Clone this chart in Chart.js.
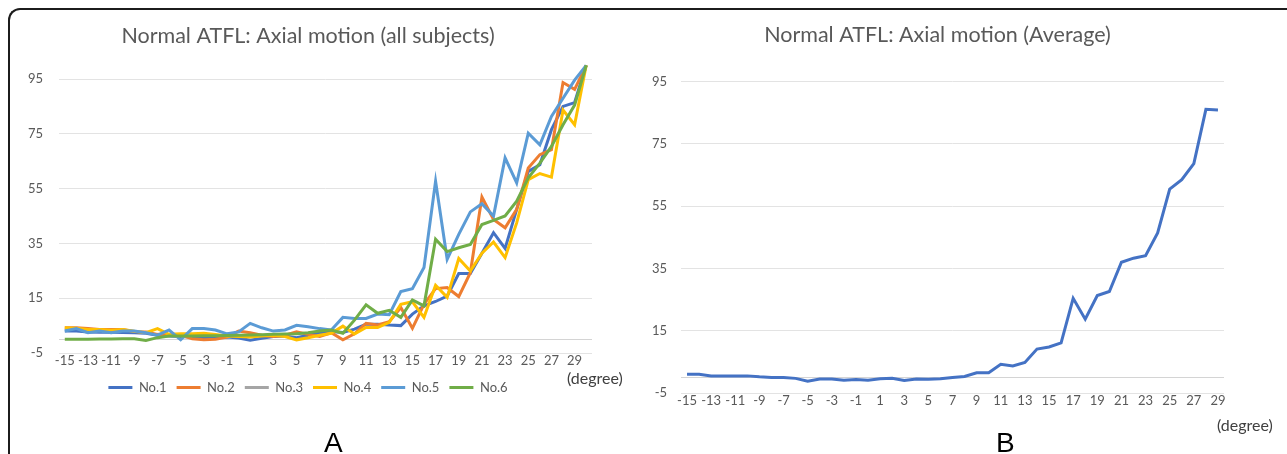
<!DOCTYPE html>
<html>
<head>
<meta charset="utf-8">
<script src="https://cdn.jsdelivr.net/npm/chart.js@4.4.1/dist/chart.umd.min.js"></script>
<style>
  html, body { margin: 0; padding: 0; background: #fff; }
  body { width: 1287px; height: 454px; position: relative; overflow: hidden; font-family: Lato, "Open Sans", sans-serif; }
  #frame { position: absolute; left: 8px; top: 8px; width: 1400px; height: 600px;
           border-top: 2px solid #1c1c1c; border-left: 2px solid #1c1c1c; border-top-left-radius: 12px; }
  canvas { position: absolute; top: 0; }
  .deg { position: absolute; font-size: 16px; line-height: 18px; color: #404040; }
  .panel { position: absolute; font-family: "Liberation Sans", Arial, sans-serif; font-size: 28px; line-height: 28px; color: #000; }
</style>
</head>
<body>
<div id="frame"></div>
<canvas id="chartA" width="640" height="454" style="left:0"></canvas>
<canvas id="chartB" width="647" height="454" style="left:640px"></canvas>
<div class="deg" style="left:567px; top:369px">(degree)</div>
<div class="deg" style="left:1217px; top:416px">(degree)</div>
<div class="panel" style="left:324px; top:429px">A</div>
<div class="panel" style="left:996px; top:429px">B</div>
<script>
// x categories (degree)
const degreesA = [];
for (let d = -15; d <= 30; d++) degreesA.push(String(d));
const degreesB = degreesA.slice(0, 45);   // -15 .. 29

const yTicks = [-5, 0, 15, 35, 55, 75, 95];

const subjectNames = ["No.1", "No.2", "No.3", "No.4", "No.5", "No.6"];
const subjectColors = ["#4472C4", "#ED7D31", "#A5A5A5", "#FFC000", "#5B9BD5", "#70AD47"];

const no1 = [3.0, 3.0, 2.7, 2.6, 2.6, 2.5, 2.4, 2.2, 1.5, 1.2, 1.0, 0.8, 0.6, 0.6, 0.8, 0.5, -0.3, 0.4, 1.0, 1.2, 0.6, 1.5, 2.4, 2.8,
             2.5, 3.7, 5.5, 5.5, 5.2, 5.0, 9.2, 12.2, 13.8, 15.8, 24.0, 24.0, 31.4, 38.9, 33.2, 47.4, 61.3, 63.7, 76.5, 85.0, 86.4, 100];
const no2 = [4.2, 4.2, 3.9, 3.6, 3.6, 3.6, 2.8, 2.7, 1.8, 1.5, 1.5, 0.2, -0.2, 0.0, 0.8, 3.0, 2.4, 1.5, 1.0, 1.5, 2.7, 1.8, 1.0, 2.4,
             -0.2, 2.0, 5.8, 5.2, 6.4, 11.6, 4.0, 12.8, 18.5, 18.9, 15.6, 24.3, 51.9, 43.7, 40.7, 47.4, 62.5, 67.4, 69.2, 93.7, 91.2, 100];
const no3 = [];   // grey series: no line visible in the figure
const no4 = [4.2, 4.0, 3.6, 3.6, 3.3, 3.6, 2.9, 2.4, 3.9, 1.8, 2.0, 2.0, 2.2, 1.8, 1.2, 1.0, 0.8, 1.2, 1.5, 1.0, -0.2, 0.6, 1.5, 2.2,
             4.8, 1.9, 4.3, 4.3, 6.2, 12.8, 13.7, 8.0, 19.7, 15.3, 29.5, 24.9, 31.4, 35.5, 29.8, 42.5, 58.3, 60.5, 59.2, 83.7, 78.3, 100];
const no5 = [3.0, 3.9, 2.4, 3.0, 2.4, 3.0, 3.0, 2.4, 1.5, 3.4, -0.2, 3.9, 3.9, 3.4, 2.0, 2.7, 5.8, 4.2, 3.0, 3.4, 5.1, 4.6, 3.9, 3.4,
             8.0, 7.6, 7.6, 9.2, 9.0, 17.4, 18.5, 26.2, 57.7, 29.2, 38.3, 46.5, 49.5, 45.0, 66.2, 57.1, 75.2, 71.0, 81.3, 88.0, 94.6, 100];
const no6 = [0.0, 0.0, 0.0, 0.1, 0.1, 0.2, 0.2, -0.4, 0.6, 1.2, 1.2, 1.2, 1.3, 1.3, 1.4, 1.5, 1.6, 1.7, 1.8, 1.9, 2.0, 2.4, 3.0, 3.4,
             2.2, 7.0, 12.6, 9.5, 10.6, 8.0, 14.4, 12.2, 36.5, 32.0, 33.4, 34.6, 41.9, 43.4, 45.0, 50.4, 58.9, 64.3, 70.4, 78.3, 85.5, 100];

const average = [1.0, 1.0, 0.5, 0.5, 0.5, 0.5, 0.2, 0.0, 0.0, -0.3, -1.2, -0.5, -0.5, -0.9, -0.7, -0.9, -0.4, -0.3, -1.0, -0.5, -0.6, -0.4, 0.0, 0.3,
                 1.5, 1.5, 4.2, 3.7, 4.8, 9.1, 9.8, 11.1, 25.4, 18.7, 26.3, 27.6, 37.0, 38.3, 39.1, 46.4, 60.5, 63.5, 68.7, 86.1, 85.9];

const subjectData = [no1, no2, no3, no4, no5, no6];

const textColor = "#595959";
const fontFamily = "Lato, 'Open Sans', sans-serif";
Chart.defaults.font.family = fontFamily;
Chart.defaults.color = textColor;
Chart.defaults.animation = false;

function yScale(width, pad) {
  return {
    min: -5, max: 100,
    afterBuildTicks: s => { s.ticks = yTicks.map(v => ({ value: v })); },
    afterFit: s => { s.width = width; },
    ticks: { padding: pad, font: { size: 13 }, callback: v => (v === 0 ? "" : v) },
    grid: { drawTicks: false, color: c => (c.tick && c.tick.value === 0 ? "#d4d4d4" : "#e3e3e3"), lineWidth: 1 },
    border: { display: false }
  };
}

function xScale(labels) {
  return {
    type: "category",
    offset: true,
    afterFit: s => { s.height = 18; },
    ticks: { autoSkip: false, maxRotation: 0, padding: 0, font: { size: 13 },
             callback: (v, i) => (i % 2 === 0 ? labels[i] : "") },
    grid: { display: false, drawTicks: false },
    border: { display: false }
  };
}

new Chart(document.getElementById("chartA"), {
  type: "line",
  data: {
    labels: degreesA,
    datasets: subjectNames.map((name, i) => ({
      label: name,
      data: subjectData[i],
      borderColor: subjectColors[i],
      backgroundColor: subjectColors[i],
      borderWidth: 3,
      pointRadius: 0,
      tension: 0,
      clip: false,
      order: 6 - i
    }))
  },
  options: {
    responsive: false,
    layout: { padding: { left: 24, right: 48, top: 0, bottom: 50 } },
    plugins: {
      title: { display: true, text: "Normal ATFL: Axial motion (all subjects)",
               font: { size: 21.5, weight: "normal" }, color: textColor,
               padding: { top: 23.1, bottom: 16.4 } },
      legend: { position: "bottom",
                labels: { usePointStyle: true, pointStyle: "line", pointStyleWidth: 24,
                          font: { size: 13 }, color: textColor, padding: 10,
                          sort: (a, b) => a.datasetIndex - b.datasetIndex } },
      tooltip: { enabled: false }
    },
    scales: { x: xScale(degreesA), y: yScale(35, 16) }
  }
});

new Chart(document.getElementById("chartB"), {
  type: "line",
  data: {
    labels: degreesB,
    datasets: [{
      label: "Average",
      data: average,
      borderColor: "#4472C4",
      borderWidth: 3,
      pointRadius: 0,
      tension: 0,
      clip: false
    }]
  },
  options: {
    responsive: false,
    layout: { padding: { left: 11, right: 63, top: 0, bottom: 43 } },
    plugins: {
      title: { display: true, text: "Normal ATFL: Axial motion (Average)",
               font: { size: 21.5, weight: "normal" }, color: textColor,
               padding: { top: 22.6, bottom: 17.7 } },
      legend: { display: false },
      tooltip: { enabled: false }
    },
    scales: { x: xScale(degreesB), y: yScale(30, 14) }
  }
});
</script>
</body>
</html>
